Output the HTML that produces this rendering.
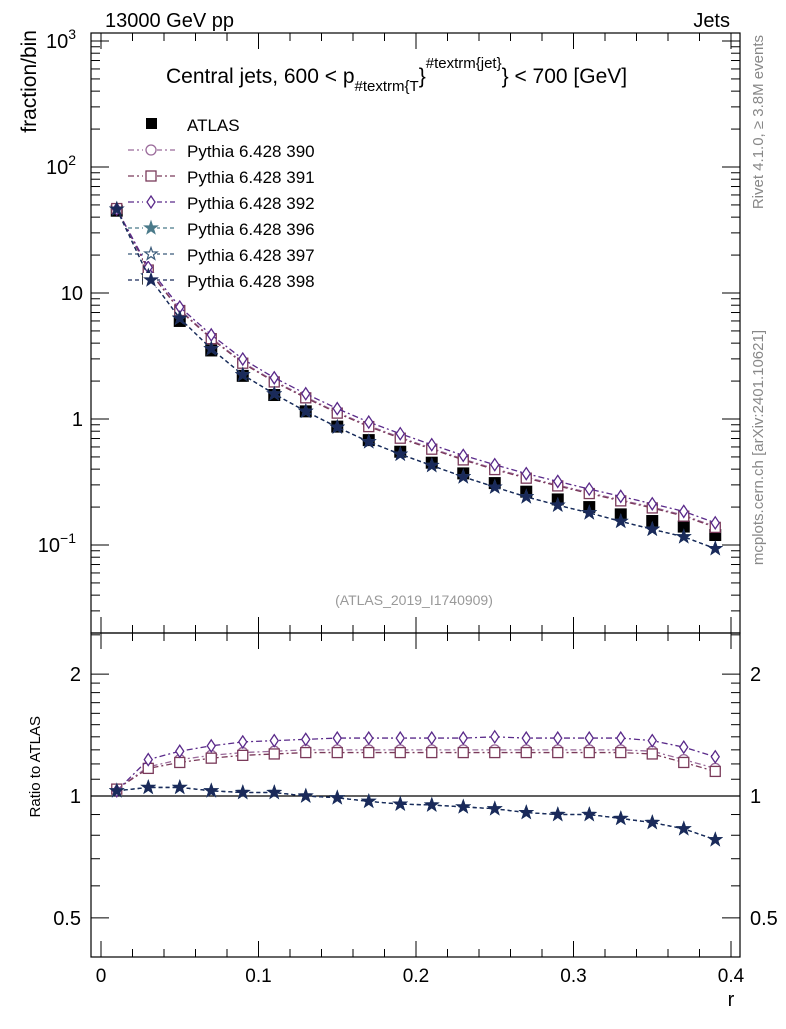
<!DOCTYPE html>
<html><head><meta charset="utf-8"><style>
body{margin:0;background:#fff;}
svg text{font-family:"Liberation Sans",sans-serif;}
</style></head><body>
<svg id="c" width="786" height="1024" xmlns="http://www.w3.org/2000/svg"></svg>
<script>
const xs=[0.01,0.03,0.05,0.07,0.09,0.11,0.13,0.15,0.17,0.19,0.21,0.23,0.25,0.27,0.29,0.31,0.33,0.35,0.37,0.39];
const atlas=[45,13,6.0,3.5,2.2,1.55,1.15,0.87,0.68,0.55,0.45,0.37,0.31,0.265,0.23,0.20,0.175,0.155,0.14,0.12];
const r390=[1.04,1.18,1.23,1.26,1.28,1.29,1.30,1.30,1.30,1.30,1.30,1.30,1.30,1.30,1.30,1.30,1.30,1.29,1.23,1.17];
const r391=[1.04,1.17,1.21,1.24,1.26,1.27,1.28,1.28,1.28,1.28,1.28,1.28,1.28,1.28,1.28,1.28,1.28,1.27,1.21,1.15];
const r392=[1.03,1.23,1.29,1.33,1.36,1.37,1.38,1.39,1.39,1.39,1.39,1.39,1.40,1.39,1.39,1.39,1.39,1.37,1.32,1.25];
const r396=[1.03,1.05,1.05,1.03,1.02,1.02,1.0,0.99,0.97,0.955,0.95,0.94,0.93,0.91,0.90,0.90,0.88,0.86,0.83,0.78];
const r397=[1.03,1.05,1.05,1.03,1.02,1.02,1.0,0.99,0.97,0.955,0.95,0.94,0.93,0.91,0.90,0.90,0.88,0.86,0.83,0.78];
const r398=[1.03,1.05,1.05,1.03,1.02,1.02,1.0,0.99,0.97,0.955,0.95,0.94,0.93,0.91,0.90,0.90,0.88,0.86,0.83,0.78];
const series=[
 {n:'Pythia 6.428 390',r:r390,c:'#9a6a9a',m:'circle',d:'6,3,2,3'},
 {n:'Pythia 6.428 391',r:r391,c:'#7a3a5a',m:'square',d:'6,3,2,3'},
 {n:'Pythia 6.428 392',r:r392,c:'#5a2a8a',m:'diamond',d:'6,3,2,3'},
 {n:'Pythia 6.428 396',r:r396,c:'#4a7a8a',m:'starf',d:'4,3'},
 {n:'Pythia 6.428 397',r:r397,c:'#3a5a7a',m:'staro',d:'4,3'},
 {n:'Pythia 6.428 398',r:r398,c:'#1a2a5a',m:'starf',d:'4,3'}];
const svg=document.getElementById('c');const NS='http://www.w3.org/2000/svg';
function el(t,a,p){const e=document.createElementNS(NS,t);for(const k in a)e.setAttribute(k,a[k]);(p||svg).appendChild(e);return e;}
function tx(s,x,y,a){const e=el('text',Object.assign({x:x,y:y},a||{}));e.textContent=s;return e;}
const L=91,R=740,T1=33,B1=633,B2=957;
const X=v=>101+v*1575;
const Y1=v=>419-126*Math.log10(v);
const Y2=v=>796-405*Math.log10(v);
const f1=el('rect',{x:L,y:T1,width:R-L,height:B1-T1,fill:'none',stroke:'#000','stroke-width':1.2});

const f2=el('rect',{x:L,y:B1,width:R-L,height:B2-B1,fill:'none',stroke:'#000','stroke-width':1.2});

for(let i=0;i<=20;i++){const v=i*0.02;if(X(v)>R)break;const big=i%5==0;
 el('line',{x1:X(v),x2:X(v),y1:B2,y2:B2-(big?16:8),stroke:'#000'});
 el('line',{x1:X(v),x2:X(v),y1:B1,y2:B1-(big?16:8),stroke:'#000'});
 el('line',{x1:X(v),x2:X(v),y1:B1,y2:B1+(big?16:8),stroke:'#000'});
 el('line',{x1:X(v),x2:X(v),y1:T1,y2:T1+(big?16:8),stroke:'#000'});
 if(big){const t=tx(['0','0.1','0.2','0.3','0.4'][i/5],X(v),982,{'font-size':19,'text-anchor':'middle'});
 }}
const xt=tx('r',731,1006,{'font-size':20,'text-anchor':'middle'});
for(let d=-2;d<=3;d++)for(let k=1;k<=9;k++){const v=k*Math.pow(10,d);const y=Y1(v);if(y<T1||y>B1)continue;
 const w=k==1?18:9;el('line',{x1:L,x2:L+w,y1:y,y2:y,stroke:'#000'});el('line',{x1:R,x2:R-w,y1:y,y2:y,stroke:'#000'});}
const ylab=[[1000,'10','3'],[100,'10','2'],[10,'10',''],[1,'1',''],[0.1,'10','−1']];
for(const [v,b,e] of ylab){const t=el('text',{x:e?76:83,y:Y1(v)+7,'font-size':20,'text-anchor':'end'});
 
 t.textContent=b;if(e){const s=el('tspan',{dy:-9,'font-size':14},t);s.textContent=e;}}
for(const v of [0.4,0.5,0.6,0.7,0.8,0.9,1,1.1,1.2,1.3,1.4,1.5,1.6,1.7,1.8,1.9,2,2.5]){const y=Y2(v);if(y<B1||y>B2)continue;
 const w=(v==0.5||v==1||v==2)?18:9;el('line',{x1:L,x2:L+w,y1:y,y2:y,stroke:'#000'});el('line',{x1:R,x2:R-w,y1:y,y2:y,stroke:'#000'});}
for(const v of [0.5,1,2]){const s=v==0.5?'0.5':String(v);
 const a=tx(s,81,Y2(v)+7,{'font-size':20,'text-anchor':'end'});
 const b=tx(s,750,Y2(v)+7,{'font-size':20});}
el('line',{x1:L,x2:R,y1:Y2(1),y2:Y2(1),stroke:'#000','stroke-width':1.2});
function marker(m,x,y,c,g,s){s=s||5;let e;
 if(m=='circle')e=el('circle',{cx:x,cy:y,r:s,fill:'#fff',stroke:c,'stroke-width':1.3},g);
 else if(m=='square')e=el('rect',{x:x-s,y:y-s,width:2*s,height:2*s,fill:'#fff',stroke:c,'stroke-width':1.3},g);
 else if(m=='diamond')e=el('polygon',{points:`${x},${y-6} ${x+4},${y} ${x},${y+6} ${x-4},${y}`,fill:'#fff',stroke:c,'stroke-width':1.3},g);
 else {let p=[];for(let i=0;i<10;i++){const rr=i%2?2.6:6.5,a=-Math.PI/2+i*Math.PI/5;p.push((x+rr*Math.cos(a)).toFixed(1)+','+(y+rr*Math.sin(a)).toFixed(1));}
  e=el('polygon',{points:p.join(' '),fill:m=='starf'?c:'#fff',stroke:c,'stroke-width':1.2},g);}
 return e;}
const gA=el('g',{});
atlas.forEach((v,i)=>{el('rect',{x:X(xs[i])-6,y:Y1(v)-6,width:12,height:12,fill:'#000'},gA);});
series.forEach((s,si)=>{
 const g=el('g',{});
 const top=xs.map((x,i)=>[X(x),Y1(atlas[i]*s.r[i])]);
 const bot=xs.map((x,i)=>[X(x),Y2(s.r[i])]);
 el('polyline',{points:top.map(p=>p.join(',')).join(' '),fill:'none',stroke:s.c,'stroke-width':1.3,'stroke-dasharray':s.d},g);
 el('polyline',{points:bot.map(p=>p.join(',')).join(' '),fill:'none',stroke:s.c,'stroke-width':1.3,'stroke-dasharray':s.d},g);
 top.forEach(p=>marker(s.m,p[0],p[1],s.c,g));bot.forEach(p=>marker(s.m,p[0],p[1],s.c,g));
 const ly=150+si*26;const lg=el('g',{});
 el('line',{x1:128,x2:175,y1:ly,y2:ly,stroke:s.c,'stroke-width':1.3,'stroke-dasharray':s.d},lg);
 el('rect',{x:143,y:ly-7,width:14,height:14,fill:'#fff'},lg);
 marker(s.m,151,ly,s.c,lg);
 tx(s.n,187,ly+7,{'font-size':17});
});
const la=el('g',{});
el('rect',{x:146,y:118,width:11,height:11,fill:'#000'},la);tx('ATLAS',187,131,{'font-size':17});
const t1=tx('13000 GeV pp',105,27,{'font-size':20});
const t2=tx('Jets',730,27,{'font-size':20,'text-anchor':'end'});
const ti=el('text',{x:166,y:83,'font-size':21});
ti.innerHTML='Central jets, 600 &lt; p<tspan font-size="15" dy="8">#textrm{T</tspan><tspan dy="-8">}</tspan><tspan font-size="15" dy="-15">#textrm{jet}</tspan><tspan dy="15">} &lt; 700 [GeV]</tspan>';
const yl=tx('fraction/bin',-30,36,{'font-size':21,'text-anchor':'end',transform:'rotate(-90)'});

const rl=tx('Ratio to ATLAS',-716,40,{'font-size':15,'text-anchor':'end',transform:'rotate(-90)'});

const rv=tx('Rivet 4.1.0, ≥ 3.8M events',-35,763,{'font-size':15,fill:'#888','text-anchor':'end',transform:'rotate(-90)'});

const mc=tx('mcplots.cern.ch [arXiv:2401.10621]',-330,763,{'font-size':15,fill:'#888','text-anchor':'end',transform:'rotate(-90)'});

const an=tx('(ATLAS_2019_I1740909)',414,605,{'font-size':14,fill:'#999','text-anchor':'middle'});

</script>
</body></html>
